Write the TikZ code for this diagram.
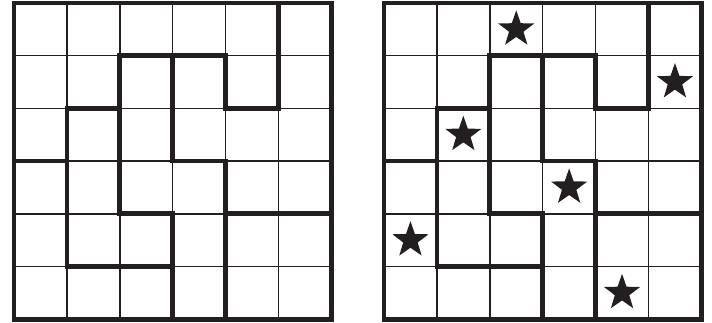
\documentclass[tikz,border=0pt]{standalone}
\usepackage{xcolor}
\usetikzlibrary{shapes.geometric}
\definecolor{ink}{HTML}{231F20}
\tikzset{
  cellline/.style={ink, line width=1.4pt},
  wall/.style={ink, line width=4.7pt, line cap=rect, line join=miter},
  starmark/.style={star, star points=5, star point ratio=2.5, fill=ink, draw=none,
    inner sep=0pt, minimum size=38pt}
}

\begin{document}
\begin{tikzpicture}[x=52.9pt, y=-52.7pt]
  \useasboundingbox (0pt,0pt) rectangle (712pt,-322pt);

  % both puzzle grids, same regions
  \foreach \gx in {14pt,384pt} {
    \begin{scope}[shift={(\gx,-3pt)}]
      \foreach \i in {1,...,5} {
        \draw[cellline] (\i,0) -- (\i,6);
        \draw[cellline] (0,\i) -- (6,\i);
      }
      \draw[wall] (0,0) rectangle (6,6);
      \draw[wall] (5,0) -- (5,2) -- (4,2) -- (4,1) -- (2,1) -- (2,4) -- (3,4) -- (3,6)
                  (3,1) -- (3,3) -- (4,3) -- (4,6)
                  (0,3) -- (1,3) -- (1,2) -- (2,2)
                  (1,3) -- (1,5) -- (3,5)
                  (4,4) -- (6,4);
    \end{scope}
  }

  % stars of the solution
  \begin{scope}[shift={(384pt,-3pt)}]
    \foreach \c/\r [count=\k] in {2/0, 5/1, 1/2, 3/3, 0/4, 4/5}
      \node[starmark] (star\k) at (\c+0.5,\r+0.5) {};
  \end{scope}
\end{tikzpicture}
\end{document}
